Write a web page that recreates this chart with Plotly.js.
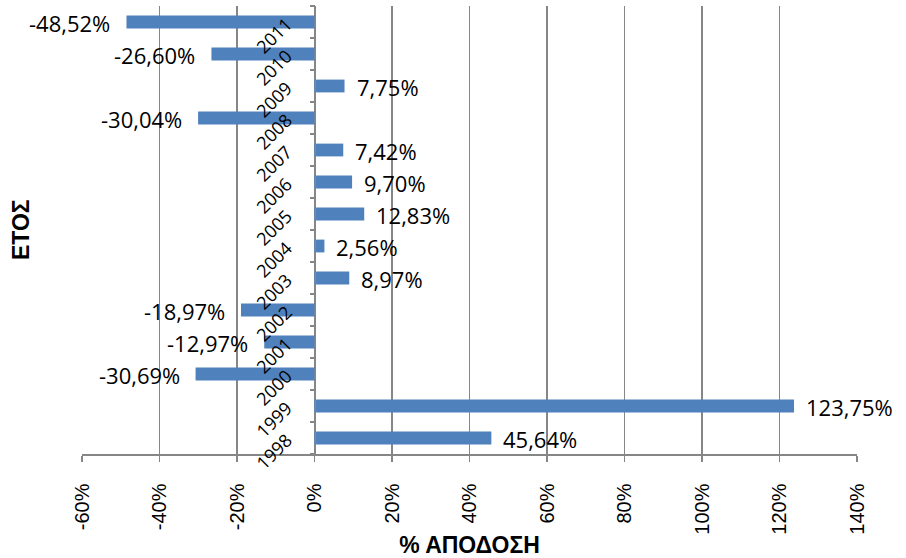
<!DOCTYPE html>
<html>
<head>
<meta charset="utf-8">
<script src="https://cdn.plot.ly/plotly-3.0.1.min.js"></script>
<style>html,body{margin:0;padding:0;background:#fff;}#chart{width:906px;height:558px;}</style>
</head>
<body>
<div id="chart"></div>
<script>
const years = ['1998','1999','2000','2001','2002','2003','2004','2005','2006','2007','2008','2009','2010','2011'];
const returns = [45.64, 123.75, -30.69, -12.97, -18.97, 8.97, 2.56, 12.83, 9.70, 7.42, -30.04, 7.75, -26.60, -48.52];
const xTickVals = [-60, -40, -20, 0, 20, 40, 60, 80, 100, 120, 140];
const xTickText = ['-60%', '-40%', '-20%', '0%', '20%', '40%', '60%', '80%', '100%', '120%', '140%'];
const xTitle = '% ΑΠΟΔΟΣΗ';
const yTitle = 'ΕΤΟΣ';

const xMin = -60, xMax = 140;
const labelFont = {family: 'Open Sans, sans-serif', size: 22, color: '#000'};
const grid = '#868686';

const fmt = v => v.toFixed(2).replace('.', ',') + '%';

const trace = {
  type: 'bar',
  orientation: 'h',
  y: years,
  x: returns,
  width: 0.4,
  marker: {color: '#4F81BD'},
  hoverinfo: 'none'
};

// category axis: annotations use the category index
const annotations = returns.map((v, i) => ({
  x: v, y: i, xref: 'x', yref: 'y',
  text: fmt(v), showarrow: false,
  xanchor: v >= 0 ? 'left' : 'right',
  xshift: v >= 0 ? 10 : -14,
  yshift: -1,
  font: labelFont
}));
annotations.push({
  x: 0, y: 0.5, xref: 'paper', yref: 'paper',
  text: yTitle, showarrow: false, textangle: -90,
  xanchor: 'center', yanchor: 'middle', xshift: -61,
  font: {family: 'Liberation Sans, Arial, sans-serif', size: 23, weight: 'bold', color: '#000'}
});

const layout = {
  width: 906, height: 558,
  margin: {l: 82, r: 49, t: 6, b: 104},
  paper_bgcolor: '#fff', plot_bgcolor: '#fff',
  showlegend: false,
  xaxis: {
    range: [xMin, xMax],
    tickvals: xTickVals, ticktext: xTickText,
    tickangle: -90,
    tickfont: {family: 'Liberation Sans, Arial, sans-serif', size: 20, color: '#000'},
    showgrid: true, gridcolor: grid, gridwidth: 1.5,
    zeroline: true, zerolinecolor: grid, zerolinewidth: 1.5,
    showline: true, linecolor: grid, linewidth: 1.5,
    ticks: 'outside', ticklen: 6, tickcolor: grid, tickwidth: 1.5,
    ticklabelstandoff: 14,
    title: {text: xTitle, standoff: 4,
      font: {family: 'Liberation Sans, Arial, sans-serif', size: 23, weight: 'bold', color: '#000'}},
    fixedrange: true
  },
  yaxis: {
    type: 'category',
    categoryorder: 'array', categoryarray: years,
    range: [-0.5, years.length - 0.5],
    anchor: 'free',
    position: (0 - xMin) / (xMax - xMin),
    showgrid: false, zeroline: false,
    showline: true, linecolor: grid, linewidth: 1.5,
    ticks: 'outside', tickson: 'boundaries', ticklen: 5, tickcolor: grid, tickwidth: 1.5,
    tickangle: -45,
    tickfont: {family: 'Open Sans, sans-serif', size: 18, color: '#000'},
    ticklabelstandoff: 24,
    fixedrange: true
  },
  annotations: annotations
};

Plotly.newPlot('chart', [trace], layout, {displayModeBar: false, staticPlot: true});
</script>
</body>
</html>
